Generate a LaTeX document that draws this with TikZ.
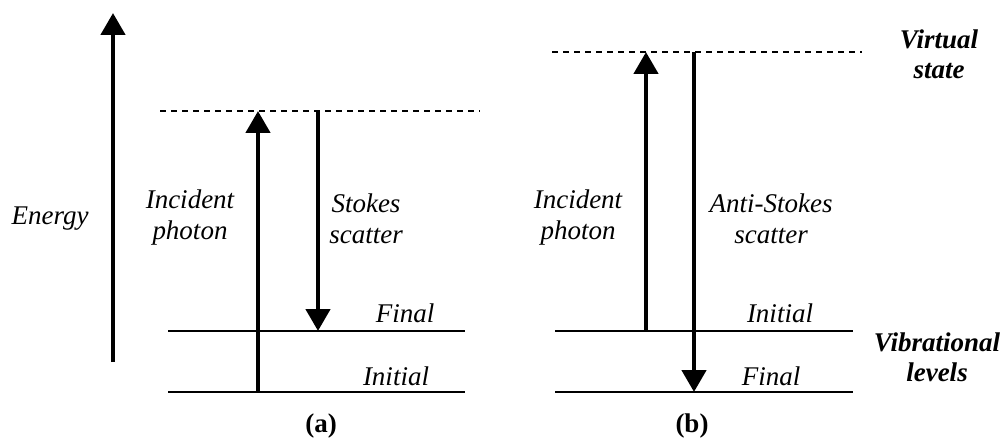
\documentclass[tikz,border=0pt]{standalone}
\usepackage{fontspec}
\setmainfont{Liberation Serif}
\usetikzlibrary{arrows.meta,positioning}

\begin{document}
\begin{tikzpicture}[x=1pt, y=-1pt,
    every node/.style={font=\fontsize{27}{31}\selectfont\itshape, inner sep=0pt, align=center},
    level/.style={line width=2.6pt},
    virt/.style={line width=2.6pt, dash pattern=on 6pt off 5pt},
    photon/.style={line width=4.6pt, -{Triangle[length=22pt, width=24pt]}},
    tag/.style={font=\fontsize{27}{30}\selectfont\bfseries\itshape},
    panel/.style={font=\fontsize{27}{29}\selectfont\bfseries}]
  \useasboundingbox (0,0) rectangle (1005,441);

  % energy axis
  \coordinate (e-lo) at (113,362);
  \coordinate (e-hi) at (113,13);
  \draw[photon] (e-lo) -- (e-hi);
  \node[anchor=base] (energy) at (50,225) {Energy};

  % (a) Stokes
  \coordinate (a-v1) at (160,111);  \coordinate (a-v2) at (480,111);
  \coordinate (a-f1) at (168,331);  \coordinate (a-f2) at (465,331);
  \coordinate (a-i1) at (168,392);  \coordinate (a-i2) at (465,392);
  \draw[virt] (a-v1) -- (a-v2);
  \draw[level] (a-f1) -- (a-f2);
  \draw[level] (a-i1) -- (a-i2);
  \coordinate (a-up0) at (258,392);  \coordinate (a-up1) at (258,111);
  \coordinate (a-dn0) at (318,111);  \coordinate (a-dn1) at (318,331);
  \draw[photon] (a-up0) -- (a-up1);
  \draw[photon] (a-dn0) -- (a-dn1);
  \node (a-inc) at (190,218) {Incident\\photon};
  \node (a-sto) at (366,219) {Stokes\\scatter};
  \node[anchor=base] (a-fin) at (405,322) {Final};
  \node[anchor=base] (a-ini) at (396,385) {Initial};
  \node[panel, anchor=base] (a-lab) at (321,432) {(a)};

  % (b) anti-Stokes
  \coordinate (b-v1) at (552,52);  \coordinate (b-v2) at (862,52);
  \coordinate (b-i1) at (555,331); \coordinate (b-i2) at (853,331);
  \coordinate (b-f1) at (555,392); \coordinate (b-f2) at (853,392);
  \draw[virt] (b-v1) -- (b-v2);
  \draw[level] (b-i1) -- (b-i2);
  \draw[level] (b-f1) -- (b-f2);
  \coordinate (b-up0) at (646,331);  \coordinate (b-up1) at (646,52);
  \coordinate (b-dn0) at (694,52);   \coordinate (b-dn1) at (694,392);
  \draw[photon] (b-up0) -- (b-up1);
  \draw[photon] (b-dn0) -- (b-dn1);
  \node (b-inc) at (578,218) {Incident\\photon};
  \node (b-sto) at (771,219) {Anti-Stokes\\scatter};
  \node[anchor=base] (b-ini) at (780,322) {Initial};
  \node[anchor=base] (b-fin) at (771,385) {Final};
  \node[panel, anchor=base] (b-lab) at (692,432) {(b)};

  % side notes
  \node[tag] (virtual) at (939,54) {Virtual\\state};
  \node[tag] (vibr) at (937,357) {Vibrational\\levels};
\end{tikzpicture}
\end{document}
